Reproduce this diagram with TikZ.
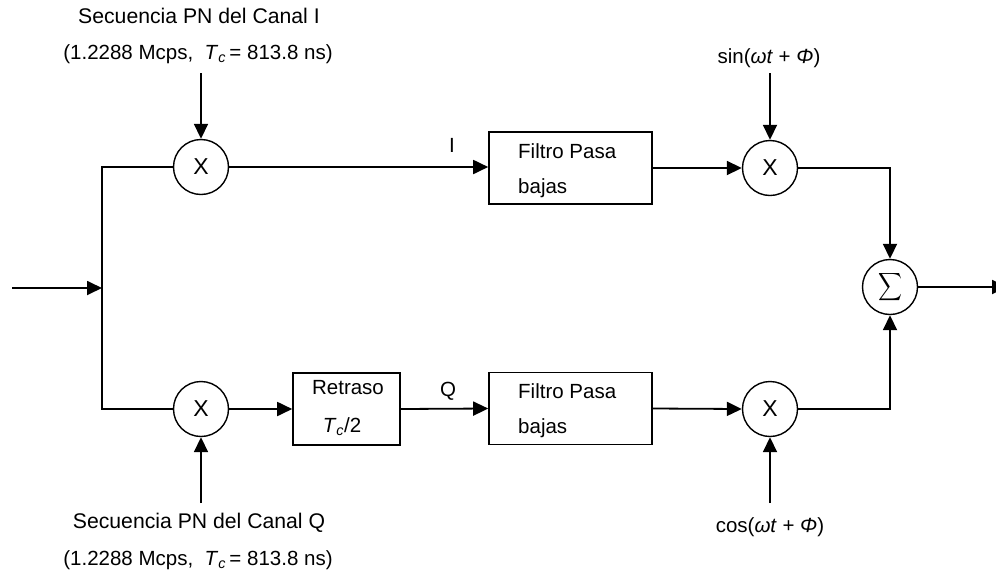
\documentclass[tikz,border=0pt]{standalone}
\usepackage{fontspec}
\setmainfont{Liberation Sans}
\usepackage{graphicx}
\usetikzlibrary{arrows.meta}

\begin{document}
\begin{tikzpicture}[x=1pt,y=-1pt,
  lbl/.style={font=\fontsize{20.5}{24}\selectfont, inner sep=0pt, anchor=base},
  lbll/.style={lbl, anchor=base west},
  mult/.style={circle, draw, line width=1.4pt, minimum size=55pt, inner sep=0pt,
               font=\fontsize{23}{26}\selectfont},
  blk/.style={draw, line width=1.6pt, inner sep=0pt},
  wire/.style={line width=1.8pt, line join=miter},
  flow/.style={wire, -{Triangle[length=15pt,width=14pt]}},
  ]
\useasboundingbox (0,0) rectangle (996,571);

% mixers, filters, delay and summer
\node[mult] (mI)  at (201,167) {X};
\node[mult] (mQ)  at (201,409) {X};
\node[mult] (mIr) at (770,168) {X};
\node[mult] (mQr) at (770,409) {X};
\node[mult] (sig) at (890,287) {\resizebox*{24pt}{31pt}{$\displaystyle\sum$}};

\node[blk, minimum width=163pt, minimum height=72pt] (fI) at (570.5,168) {};
\node[blk, minimum width=163pt, minimum height=72pt] (fQ) at (570.5,408.5) {};
\node[blk, minimum width=107pt, minimum height=72pt] (ret) at (346.5,409) {};

% text inside the blocks
\node[lbll] (fIa) at (518,158) {Filtro Pasa};
\node[lbll] (fIb) at (518,193) {bajas};
\node[lbll] (fQa) at (518,398) {Filtro Pasa};
\node[lbll] (fQb) at (518,433) {bajas};
\node[lbl] (reta) at (348,394) {Retraso};
\node[lbl] (retb) at (342,432) {\textit{T}\textsubscript{\textit{c}}/2};

% branch labels
\node[lbl] (lI) at (452,152) {I};
\node[lbl] (lQ) at (448,396) {Q};

% PN sequence and carrier labels
\node[lbl, font=\fontsize{21.2}{24}\selectfont] (pnI1) at (199,23) {Secuencia PN del Canal I};
\node[lbl] (pnI2) at (198,59) {(1.2288 Mcps, \ \textit{T}\textsubscript{\textit{c}}\,= 813.8 ns)};
\node[lbl, font=\fontsize{21.2}{24}\selectfont] (pnQ1) at (199,528) {Secuencia PN del Canal Q};
\node[lbl] (pnQ2) at (198,565) {(1.2288 Mcps, \ \textit{T}\textsubscript{\textit{c}}\,= 813.8 ns)};
\node[lbl] (sinl) at (769,63) {sin(\textit{ωt} + \textit{Φ})};
\node[lbl] (cosl) at (770,532) {cos(\textit{ωt} + \textit{Φ})};

% free ends of the connectors
\coordinate (pnIsrc) at (201,73);
\coordinate (pnQsrc) at (201,503);
\coordinate (sinsrc) at (770,73);
\coordinate (cossrc) at (770,503);
\coordinate (in)  at (12,288);
\coordinate (jn)  at (102,288);
\coordinate (out) at (1007,287);

% input and splitting into the two branches
\draw[flow] (in) -- (jn);
\draw[wire] (mI.west) -| (jn) |- (mQ.west);

% spreading sequences
\draw[flow] (pnIsrc) -- (mI.north);
\draw[flow] (pnQsrc) -- (mQ.south);

% I branch
\draw[flow] (mI.east) -- (fI.west |- mI.east);
\draw[flow] (fI.east) -- (mIr.west);
\draw[flow] (sinsrc) -- (mIr.north);

% Q branch
\draw[flow] (mQ.east) -- (ret.west);
\draw[flow] (ret.east) -- (fQ.west);
\draw[flow] (fQ.east) -- (mQr.west);
\draw[flow] (cossrc) -- (mQr.south);

% summation and output
\draw[flow] (mIr.east) -| (sig.north);
\draw[flow] (mQr.east) -| (sig.south);
\draw[flow] (sig.east) -- (out);
\end{tikzpicture}
\end{document}
